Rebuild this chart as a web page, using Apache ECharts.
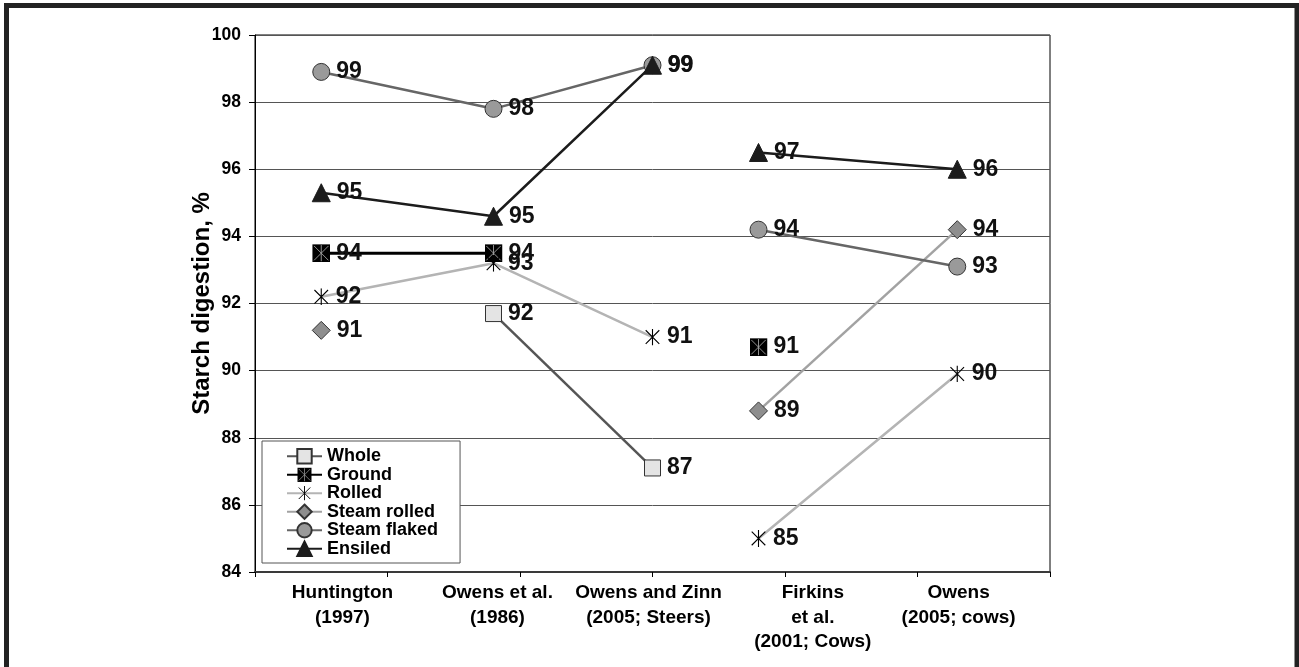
<!DOCTYPE html>
<html>

<head>
    <meta charset="utf-8">
</head>

<body style="margin: 0; background: #fff">
    <div id="container" style="width: 1299px; height: 667px"></div>
    <script type="text/javascript" src="https://cdn.jsdelivr.net/npm/echarts@6/dist/echarts.min.js"></script>
    <script>
        // studies (x position on the 0..6 axis where each one was plotted)
        var studies = ['Huntington\n(1997)', 'Owens et al.\n(1986)', 'Owens and Zinn\n(2005; Steers)', 'Firkins\net al.\n(2001; Cows)', 'Owens\n(2005; cows)']
        var studyX = [0.5, 1.8, 3.0, 3.8, 5.3]
        var labelX = [0.66, 1.83, 2.97, 4.21, 5.31]
        var gapX = 3.4

        var whole = [null, 91.7, 87.1, null, null]
        var ground = [93.5, 93.5, null, 90.7, null]
        var rolled = [92.2, 93.2, 91.0, 85.0, 89.9]
        var steamRolled = [91.2, null, null, 88.8, 94.2]
        var steamFlaked = [98.9, 97.8, 99.1, 94.2, 93.1]
        var ensiled = [95.3, 94.6, 99.1, 96.5, 96.0]

        // steers and cows are not joined: a gap point between them
        function pts(vals) {
            let out = []
            for (let i = 0; i < vals.length; i++) {
                if (i == 3) out.push([gapX, '-'])
                out.push([studyX[i], vals[i] == null ? '-' : vals[i]])
            }
            return out
        }

        function svgSym(svg) {
            return 'image://data:image/svg+xml;charset=utf-8,' + encodeURIComponent(svg)
        }
        var groundSym = svgSym("<svg xmlns='http://www.w3.org/2000/svg' width='20' height='20'><rect x='0' y='0' width='20' height='20' fill='#000'/><path d='M2 2L18 18M18 2L2 18M10 1V19' stroke='#a0a0a0' stroke-width='1' fill='none'/></svg>")
        var rolledSym = svgSym("<svg xmlns='http://www.w3.org/2000/svg' width='20' height='20'><path d='M2 2L18 18M18 2L2 18M10 0V20' stroke='#000' stroke-width='1.3' fill='none'/></svg>")

        var labelFont = {
            show: true,
            position: 'right',
            distance: 6,
            formatter: function (p) { return Math.round(p.value[1]) },
            fontFamily: "'Liberation Sans', Arial, sans-serif",
            fontWeight: 'bold',
            fontSize: 23,
            color: '#111'
        }

        function mk(name, vals, lineColor, lineWidth, symbol, size, fill, border) {
            return {
                name: name,
                type: 'line',
                data: pts(vals),
                connectNulls: false,
                symbol: symbol,
                symbolSize: size,
                showAllSymbol: true,
                animation: false,
                lineStyle: { color: lineColor, width: lineWidth },
                itemStyle: { color: fill, borderColor: border, borderWidth: 1 },
                label: labelFont,
                emphasis: { disabled: true }
            }
        }

        var dom = document.getElementById('container')
        var myChart = echarts.init(dom)

        var option = {
            backgroundColor: '#fff',
            graphic: [{
                type: 'rect',
                silent: true,
                shape: { x: 6.5, y: 5.5, width: 1290.5, height: 720 },
                style: { fill: 'none', stroke: '#222', lineWidth: 5 }
            }],
            grid: {
                left: 255, top: 35, right: 249, bottom: 95,
                show: true, borderColor: '#000', borderWidth: 1
            },
            legend: {
                orient: 'vertical',
                left: 262, top: 441,
                padding: [6, 22, 5, 24],
                backgroundColor: '#fff',
                borderColor: '#555',
                borderWidth: 1,
                borderRadius: 0,
                itemWidth: 35,
                itemHeight: 18,
                itemGap: 0,
                textStyle: {
                    fontFamily: "'Liberation Sans', Arial, sans-serif",
                    fontWeight: 'bold', fontSize: 18, lineHeight: 18.5, color: '#000'
                },
                data: ['Whole', 'Ground', 'Rolled', 'Steam rolled', 'Steam flaked', 'Ensiled']
            },
            xAxis: {
                type: 'value',
                min: 0, max: 6, interval: 1,
                axisLine: { lineStyle: { color: '#3a3a3a', width: 2 } },
                axisTick: { show: true, length: 5, lineStyle: { color: '#000' } },
                splitLine: { show: false },
                axisLabel: {
                    customValues: labelX,
                    margin: 9,
                    formatter: function (v) {
                        let i = labelX.indexOf(v)
                        return i >= 0 ? studies[i] : ''
                    },
                    fontFamily: "'Liberation Sans', Arial, sans-serif",
                    fontWeight: 'bold', fontSize: 19, lineHeight: 24.5, color: '#000',
                    verticalAlign: 'top'
                }
            },
            yAxis: {
                type: 'value',
                min: 84, max: 100, interval: 2,
                name: 'Starch digestion, %',
                nameLocation: 'middle',
                nameGap: 41,
                nameMoveOverlap: false,
                nameTextStyle: {
                    fontFamily: "'Liberation Sans', Arial, sans-serif",
                    fontWeight: 'bold', fontSize: 24, color: '#000'
                },
                axisLine: { show: true, lineStyle: { color: '#000', width: 1 } },
                axisTick: { show: true, length: 6, lineStyle: { color: '#000' } },
                splitLine: { lineStyle: { color: '#555', width: 1 } },
                axisLabel: {
                    margin: 14,
                    fontFamily: "'Liberation Sans', Arial, sans-serif",
                    fontWeight: 'bold', fontSize: 17.5, color: '#000'
                }
            },
            series: [
                mk('Whole', whole, '#555', 2.5, 'rect', 16, '#e4e4e4', '#333'),
                mk('Ground', ground, '#000', 3, groundSym, 18, '#000', '#000'),
                mk('Rolled', rolled, '#b4b4b4', 2.5, rolledSym, 17, '#000', '#000'),
                mk('Steam rolled', steamRolled, '#a2a2a2', 2.5, 'diamond', 18, '#8e8e8e', '#333'),
                mk('Steam flaked', steamFlaked, '#666', 2.5, 'circle', 17, '#9a9a9a', '#333'),
                mk('Ensiled', ensiled, '#1c1c1c', 2.5, 'triangle', 18, '#1c1c1c', '#1c1c1c')
            ]
        }
        myChart.setOption(option)
    </script>

</body>

</html>
